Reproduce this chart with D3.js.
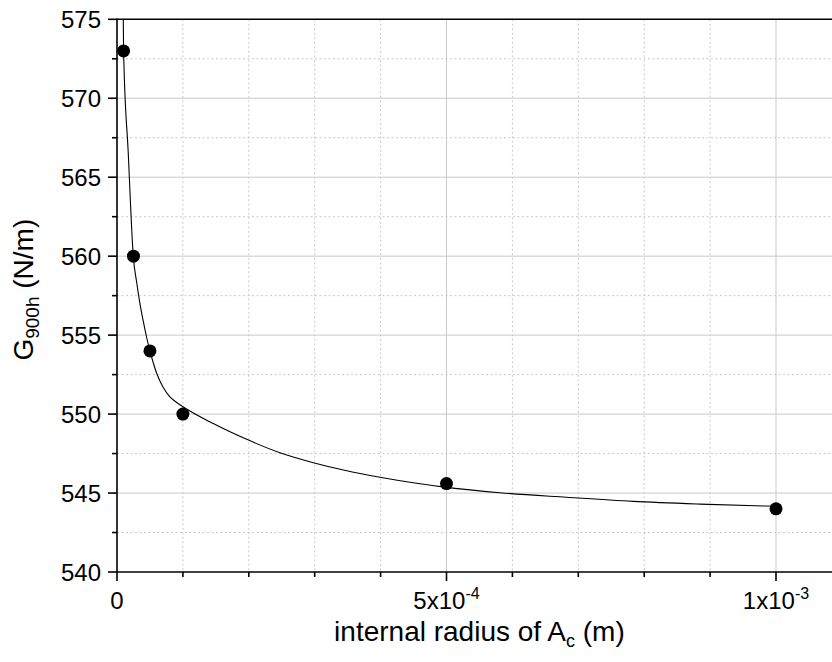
<!DOCTYPE html>
<html>
<head>
<meta charset="utf-8">
<script src="https://cdn.jsdelivr.net/npm/d3@7"></script>
<style>
  body { margin: 0; background: #fff; }
  svg { display: block; font-family: "Liberation Sans", Arial, sans-serif; }
</style>
</head>
<body>
<svg id="chart" width="832" height="662"></svg>
<script>
// Measured G900h against the internal radius of Ac
const radius = [1e-5, 2.5e-5, 5e-5, 1e-4, 5e-4, 1e-3];
const g900h = [573.0, 560.0, 554.0, 550.0, 545.6, 544.0];

// Fitted curve
const fitRadius = [9.5e-6, 1e-5, 1.71e-5, 2.47e-5, 3.0e-5, 3.5e-5, 4.0e-5, 4.5e-5, 5.0e-5,
  5.5e-5, 6.0e-5, 7.0e-5, 8.0e-5, 9.0e-5, 1.0e-4,
  1.461e-4, 1.968e-4, 2.473e-4, 2.979e-4, 3.486e-4, 3.991e-4, 4.496e-4, 5.0e-4,
  5.81e-4, 6.82e-4, 7.83e-4, 8.85e-4, 1.0e-3];
const fitG = [575.0, 573.0, 566.5, 560.0, 558.3, 556.95, 555.85, 554.85, 554.0,
  553.25, 552.6, 551.7, 551.1, 550.75, 550.47,
  549.4, 548.4, 547.55, 546.92, 546.41, 546.0, 545.65, 545.36,
  545.02, 544.73, 544.47, 544.3, 544.16];

// Axis ticks
const xMajorTicks = [0, 5e-4, 1e-3];
const xTickMantissa = ["0", "5x10", "1x10"];
const xTickExponent = ["", "-4", "-3"];
const xMinorTicks = [1e-4, 2e-4, 3e-4, 4e-4, 6e-4, 7e-4, 8e-4, 9e-4, 1.1e-3];
const yMajorTicks = [540, 545, 550, 555, 560, 565, 570, 575];
const yMinorTicks = [542.5, 547.5, 552.5, 557.5, 562.5, 567.5, 572.5];

(function () {
  const svg = d3.select("#chart");
  const W = 832;
  const plotLeft = 117, plotTop = 19.3, plotBottom = 572;
  const pxPerUnit = (776 - 117) / 1e-3;

  const x = d3.scaleLinear().domain([0, 1.1e-3]).range([plotLeft, plotLeft + 1.1e-3 * pxPerUnit]);
  const y = d3.scaleLinear().domain([540, 575]).range([plotBottom, plotTop]);

  const gridColor = "#c9c9c9";

  // Minor grid (dashed)
  svg.append("g").selectAll("line").data(xMinorTicks).join("line")
    .attr("x1", d => x(d)).attr("x2", d => x(d))
    .attr("y1", plotTop).attr("y2", plotBottom)
    .attr("stroke", gridColor).attr("stroke-width", 1).attr("stroke-dasharray", "2,2.5");
  svg.append("g").selectAll("line").data(yMinorTicks).join("line")
    .attr("x1", plotLeft).attr("x2", W)
    .attr("y1", d => y(d)).attr("y2", d => y(d))
    .attr("stroke", gridColor).attr("stroke-width", 1).attr("stroke-dasharray", "2,2.5");

  // Major grid (solid)
  svg.append("g").selectAll("line").data(xMajorTicks.filter(d => d > 0)).join("line")
    .attr("x1", d => x(d)).attr("x2", d => x(d))
    .attr("y1", plotTop).attr("y2", plotBottom)
    .attr("stroke", gridColor).attr("stroke-width", 1);
  svg.append("g").selectAll("line").data(yMajorTicks.filter(d => d > 540 && d < 575)).join("line")
    .attr("x1", plotLeft).attr("x2", W)
    .attr("y1", d => y(d)).attr("y2", d => y(d))
    .attr("stroke", gridColor).attr("stroke-width", 1);

  // Fitted curve
  const line = d3.line()
    .x((d, i) => x(fitRadius[i]))
    .y((d, i) => y(fitG[i]))
    .curve(d3.curveMonotoneX);
  svg.append("path")
    .attr("d", line(fitG))
    .attr("fill", "none").attr("stroke", "#000").attr("stroke-width", 1.1);

  // Data points
  svg.append("g").selectAll("circle").data(g900h).join("circle")
    .attr("cx", (d, i) => x(radius[i]))
    .attr("cy", d => y(d))
    .attr("r", 6.5)
    .attr("fill", "#000");

  // Axis lines
  const axisW = 1.6;
  svg.append("line").attr("x1", plotLeft).attr("x2", W).attr("y1", plotBottom).attr("y2", plotBottom)
    .attr("stroke", "#000").attr("stroke-width", axisW);
  svg.append("line").attr("x1", plotLeft).attr("x2", W).attr("y1", plotTop).attr("y2", plotTop)
    .attr("stroke", "#000").attr("stroke-width", axisW);
  svg.append("line").attr("x1", plotLeft).attr("x2", plotLeft).attr("y1", plotTop - 0.8).attr("y2", plotBottom + 0.8)
    .attr("stroke", "#000").attr("stroke-width", axisW);

  // Y ticks
  svg.append("g").selectAll("line").data(yMajorTicks).join("line")
    .attr("x1", plotLeft - 9).attr("x2", plotLeft)
    .attr("y1", d => y(d)).attr("y2", d => y(d))
    .attr("stroke", "#000").attr("stroke-width", axisW);
  svg.append("g").selectAll("line").data(yMinorTicks).join("line")
    .attr("x1", plotLeft - 5).attr("x2", plotLeft)
    .attr("y1", d => y(d)).attr("y2", d => y(d))
    .attr("stroke", "#000").attr("stroke-width", axisW);

  // X ticks
  svg.append("g").selectAll("line").data(xMajorTicks).join("line")
    .attr("x1", d => x(d)).attr("x2", d => x(d))
    .attr("y1", plotBottom).attr("y2", plotBottom + 9)
    .attr("stroke", "#000").attr("stroke-width", axisW);
  svg.append("g").selectAll("line").data(xMinorTicks).join("line")
    .attr("x1", d => x(d)).attr("x2", d => x(d))
    .attr("y1", plotBottom).attr("y2", plotBottom + 5)
    .attr("stroke", "#000").attr("stroke-width", axisW);

  const fontSize = 24;

  // Y tick labels
  svg.append("g").selectAll("text").data(yMajorTicks).join("text")
    .attr("x", plotLeft - 16).attr("y", d => y(d))
    .attr("dy", "0.36em")
    .attr("text-anchor", "end")
    .attr("font-size", fontSize).attr("fill", "#000")
    .text(d => d);

  // X tick labels with exponents
  const xl = svg.append("g").selectAll("text").data(xMajorTicks).join("text")
    .attr("x", d => x(d)).attr("y", plotBottom + 37)
    .attr("text-anchor", "middle")
    .attr("font-size", fontSize).attr("fill", "#000");
  xl.append("tspan").text((d, i) => xTickMantissa[i]);
  xl.append("tspan")
    .attr("font-size", 16).attr("dy", -10)
    .text((d, i) => xTickExponent[i]);

  // X axis title
  const xt = svg.append("text")
    .attr("x", (plotLeft + x(1.1e-3)) / 2).attr("y", 641)
    .attr("text-anchor", "middle")
    .attr("font-size", 28).attr("fill", "#000");
  xt.append("tspan").text("internal radius of A");
  xt.append("tspan").attr("font-size", 18).attr("dy", 6).text("c");
  xt.append("tspan").attr("dy", -6).text(" (m)");

  // Y axis title
  const yt = svg.append("text")
    .attr("transform", `translate(33, ${(plotTop + plotBottom) / 2 - 6}) rotate(-90)`)
    .attr("text-anchor", "middle")
    .attr("font-size", 28).attr("fill", "#000");
  yt.append("tspan").text("G");
  yt.append("tspan").attr("font-size", 19).attr("dy", 6).text("900h");
  yt.append("tspan").attr("dy", -6).text(" (N/m)");
})();
</script>
</body>
</html>
